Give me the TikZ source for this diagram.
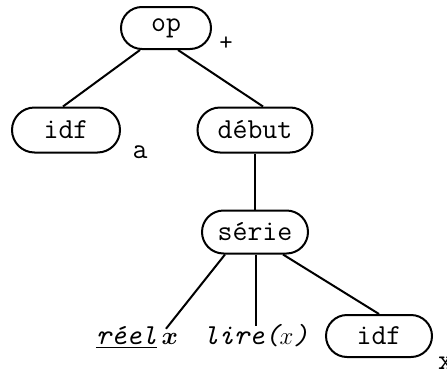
\documentclass[tikz,border=0pt]{standalone}
\usepackage{amsmath,bm}
\usetikzlibrary{calc,shapes.misc}
\begin{document}
\begin{tikzpicture}[x=1pt,y=-1pt,
  tnode/.style={draw,line width=2pt,rounded rectangle,inner sep=0pt,
    font=\fontsize{29}{31}\selectfont\ttfamily},
  lbl/.style={inner sep=0pt,font=\fontsize{29}{31}\selectfont\ttfamily},
  edge/.style={line width=2pt}]
\useasboundingbox (0,0) rectangle (447,370);
\node[tnode,minimum width=90pt,minimum height=42pt] (op) at (166,28) {op};
\node[lbl,font=\fontsize{26}{28}\selectfont\ttfamily] (plus) at (226,44) {+};
\node[tnode,minimum width=108pt,minimum height=45pt] (idfa) at (66,130) {idf};
\node[lbl] (a) at (140,152) {a};
\node[tnode,minimum width=115pt,minimum height=45pt] (debut) at (255,130) {début};
\node[tnode,minimum width=106pt,minimum height=43pt] (serie) at (255,232) {série};
\node[tnode,minimum width=106pt,minimum height=42pt] (idfb) at (379,336) {idf};
\node[lbl,anchor=base,font=\fontsize{29}{31}\selectfont\ttfamily\itshape] (reel) at (137,344) {\underline{réel}\,$\bm{x}$};
\node[lbl,anchor=base,font=\fontsize{29}{31}\selectfont\ttfamily\itshape] (lire) at (256,344) {lire($x$)};
\node[lbl,anchor=west] (x) at (438,363) {x};
\draw[edge] ([xshift=-26pt]op.south) -- ([xshift=-3pt]idfa.north);
\draw[edge] ([xshift=12pt]op.south) -- ([xshift=8pt]debut.north);
\draw[edge] (debut.south) -- (serie.north);
\draw[edge] ([xshift=-30pt]serie.south) -- ([xshift=29pt,yshift=-3pt]reel.north);
\draw[edge] ([xshift=1pt]serie.south) -- ([xshift=0pt,yshift=-2pt]lire.north);
\draw[edge] ([xshift=28pt]serie.south) -- (idfb.north);
\end{tikzpicture}
\end{document}
